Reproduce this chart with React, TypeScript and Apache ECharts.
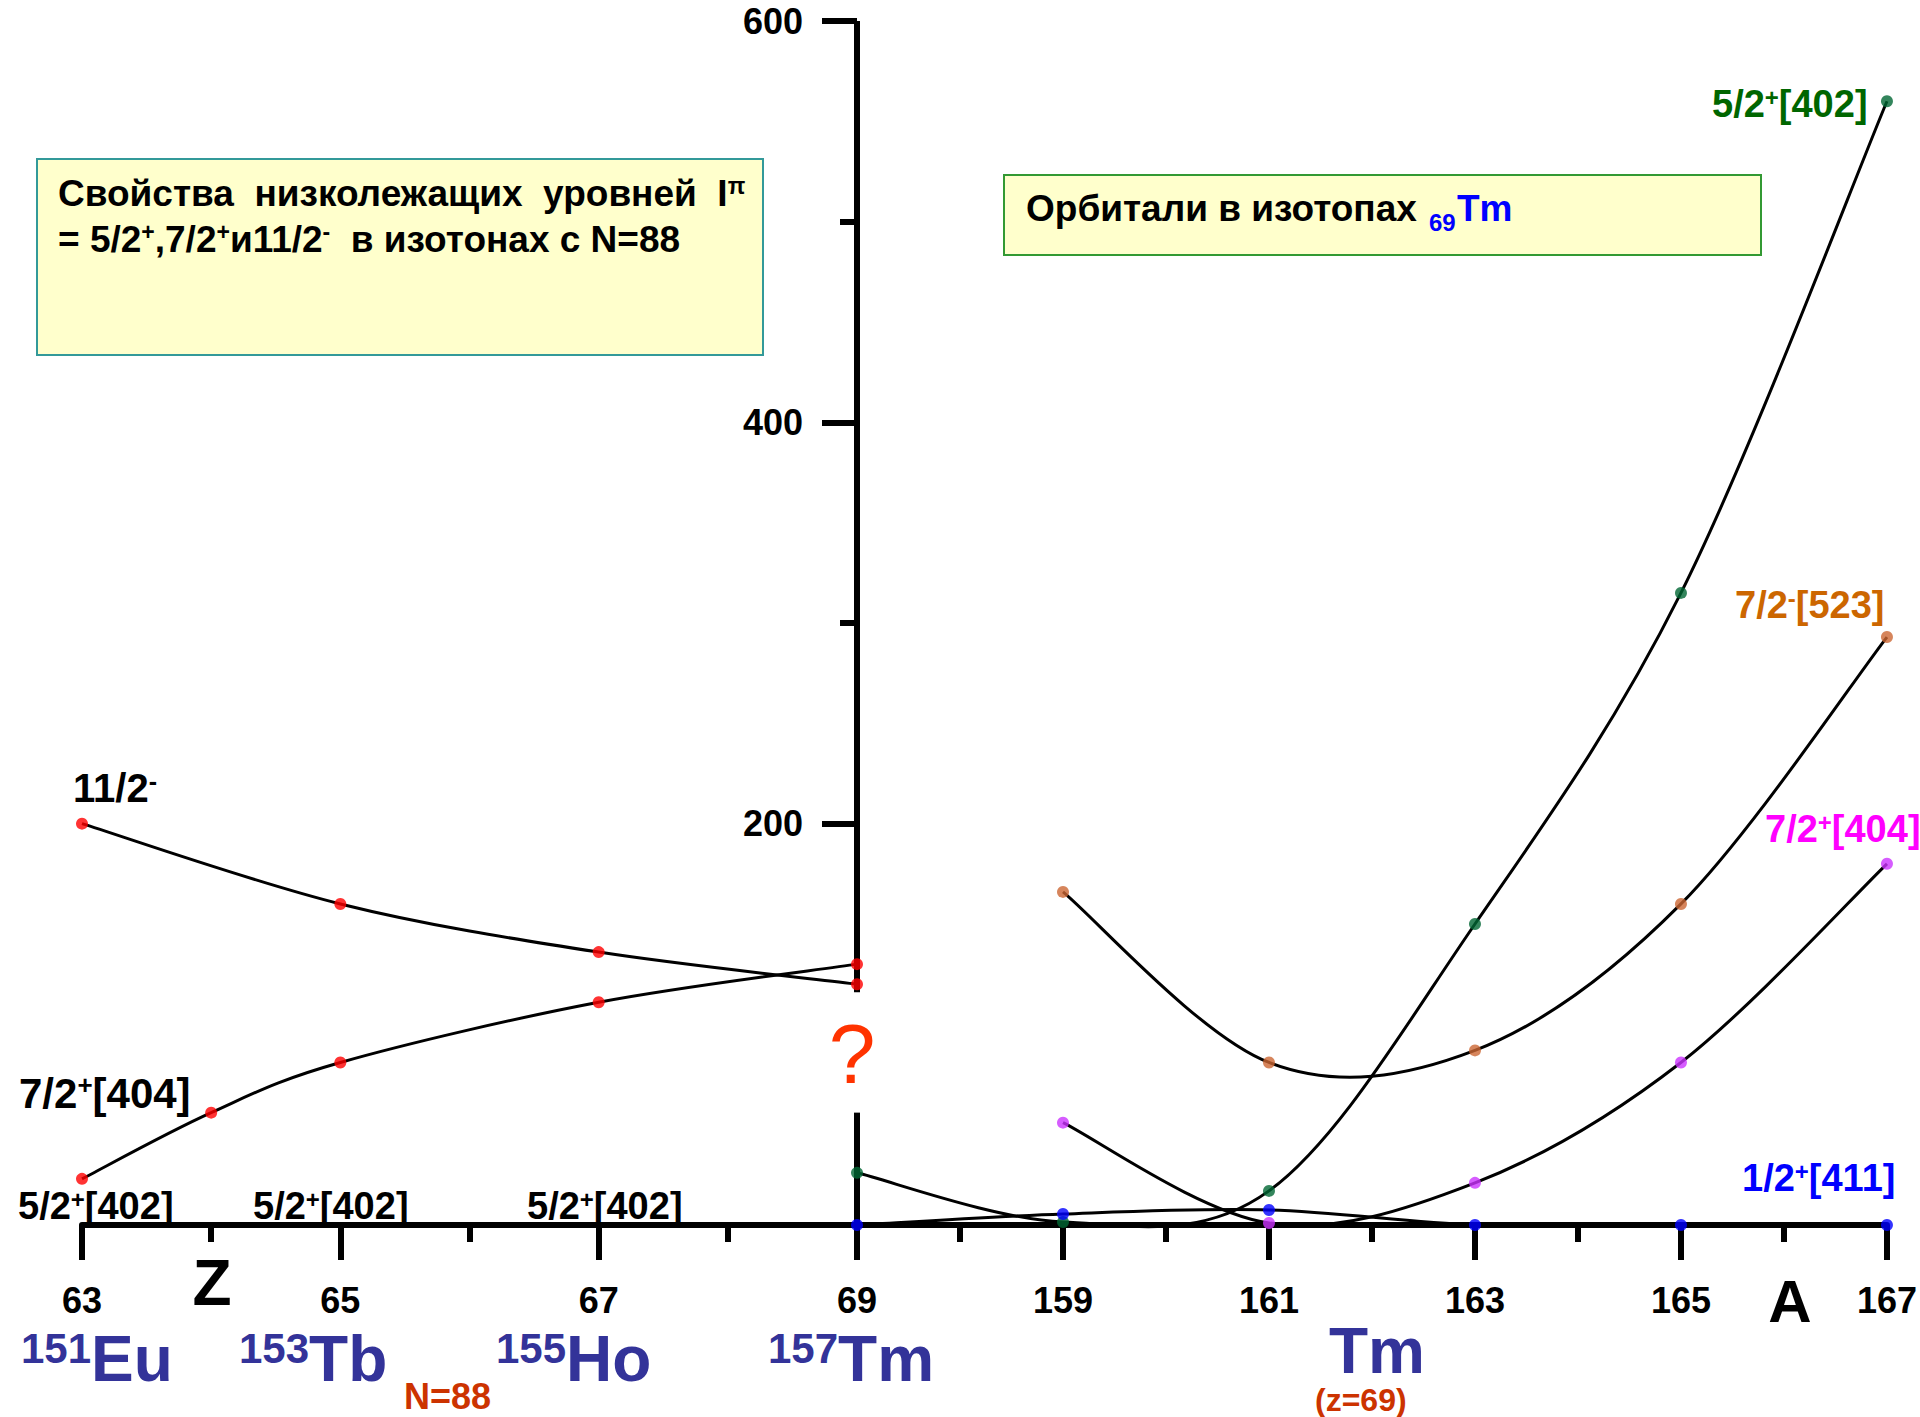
import { useEffect, useRef } from 'react';
import * as echarts from 'echarts';

const FONT = '"Liberation Sans", Arial, Helvetica, sans-serif';

// ---- Left panel: isotones N=88, x = Z ----
const zMin = 63;
const zMax = 69;
const z_11m = [63, 65, 67, 69];
const e_11m = [200, 160, 136, 120];
const z_72p = [63, 64, 65, 67, 69];
const e_72p = [23, 56, 81, 111, 130];

// ---- Right panel: Tm isotopes, x = A ----
const aMin = 157;
const aMax = 167;
const a_402 = [157, 159, 161, 163, 165, 167];
const e_402 = [26, 1.5, 17, 150, 315, 560];
const a_523 = [159, 161, 163, 165, 167];
const e_523 = [166, 81, 87, 160, 293];
const a_404 = [159, 161, 163, 165, 167];
const e_404 = [51, 1, 21, 81, 180];
const a_411 = [157, 159, 161, 163, 165, 167];
const e_411 = [0, 5.5, 7.5, 0, 0, 0];

// energy axis (keV), drawn with a gap where the "?" sits
const eMin = 0;
const eMax = 600;
const eInterval = 200;
const eMinorTicks = [300, 500];
const energyAxisPieces = [
  [0, 56],
  [116, 600],
];

// texts
const isotopes = [
  { mass: '151', el: 'Eu', x: 21 },
  { mass: '153', el: 'Tb', x: 239 },
  { mass: '155', el: 'Ho', x: 496 },
  { mass: '157', el: 'Tm', x: 768 },
];
const baseLabelX = [18, 253, 527];

const txt = (
  x: number,
  y: number,
  text: string,
  fontSize: number,
  fill: string,
  opts: any = {}
) => {
  const weight = opts.weight || 'bold';
  const lh = opts.lineHeight || fontSize;
  const supSize = opts.supSize || Math.round(fontSize * 0.62);
  return {
    type: 'text',
    x,
    y,
    z: 20,
    silent: true,
    style: {
      text,
      fill,
      fontSize,
      fontWeight: weight,
      fontFamily: FONT,
      align: opts.align || 'left',
      textAlign: opts.align || 'left',
      verticalAlign: 'middle',
      textVerticalAlign: 'middle',
      lineHeight: lh,
      rich: {
        m: { fontSize, fontWeight: weight, fontFamily: FONT, fill, lineHeight: lh },
        s: {
          fontSize: supSize,
          fontWeight: 'bold',
          fontFamily: FONT,
          fill: opts.supFill || fill,
          verticalAlign: 'top',
          lineHeight: supSize,
        },
      },
    },
  };
};

// Catmull-Rom spline through pixel points, as cubic Bezier path data
function splinePath(pts: number[][]) {
  let d = `M${pts[0][0]},${pts[0][1]}`;
  for (let i = 0; i < pts.length - 1; i++) {
    const p0 = pts[i - 1] || pts[i];
    const p1 = pts[i];
    const p2 = pts[i + 1];
    const p3 = pts[i + 2] || p2;
    const c1x = p1[0] + (p2[0] - p0[0]) / 6;
    const c1y = p1[1] + (p2[1] - p0[1]) / 6;
    const c2x = p2[0] - (p3[0] - p1[0]) / 6;
    const c2y = p2[1] - (p3[1] - p1[1]) / 6;
    d += ` C${c1x},${c1y} ${c2x},${c2y} ${p2[0]},${p2[1]}`;
  }
  return d;
}

const curveSeries = (idx: number, xs: number[], ys: number[], color: string) => [
  {
    type: 'custom',
    coordinateSystem: 'cartesian2d',
    xAxisIndex: idx,
    yAxisIndex: idx,
    data: xs.map((x, i) => [x, ys[i]]),
    encode: { x: 0, y: 1 },
    clip: false,
    silent: true,
    z: 3,
    renderItem: (params: any, api: any) => {
      if (params.dataIndex !== 0) return null;
      const pts = xs.map((x, i) => api.coord([x, ys[i]]));
      return {
        type: 'path',
        shape: { pathData: splinePath(pts) },
        style: { stroke: '#000', lineWidth: 3, fill: 'none' },
      };
    },
  },
  {
    type: 'scatter',
    xAxisIndex: idx,
    yAxisIndex: idx,
    data: xs.map((x, i) => [x, ys[i]]),
    symbol: 'circle',
    symbolSize: 12,
    clip: false,
    silent: true,
    z: 4,
    itemStyle: { color },
  },
];

const xAxisCommon = {
  type: 'value',
  splitLine: { show: false },
  axisLine: { show: true, onZero: false, lineStyle: { color: '#000', width: 6 } },
  axisTick: { show: true, length: 35, lineStyle: { color: '#000', width: 6 } },
  minorTick: { show: true, splitNumber: 2, length: 17, lineStyle: { color: '#000', width: 6 } },
  minorSplitLine: { show: false },
};

export default function App() {
  const ref = useRef<HTMLDivElement>(null);

  useEffect(() => {
    if (!ref.current) return;
    const chart = echarts.init(ref.current, null, { renderer: 'svg' });

    const graphic: any[] = [
      {
        type: 'rect',
        z: 5,
        silent: true,
        shape: { x: 37, y: 159, width: 726, height: 196 },
        style: { fill: '#FFFFCC', stroke: '#339999', lineWidth: 2 },
      },
      {
        type: 'rect',
        z: 5,
        silent: true,
        shape: { x: 1004, y: 175, width: 757, height: 80 },
        style: { fill: '#FFFFCC', stroke: '#339933', lineWidth: 2 },
      },
      txt(58, 193, 'Свойства  низколежащих  уровней  I{s|π}', 37, '#000'),
      txt(58, 239, '= 5/2{s|+},7/2{s|+}и11/2{s|-}  в изотонах с N=88', 37, '#000'),
      txt(1026, 208, 'Орбитали в изотопах', 37, '#000'),
      txt(1429, 222, '69', 24, '#0000FF'),
      txt(1457, 208, 'Tm', 37, '#0000FF'),
      // right labels
      txt(1712, 104, '5/2{s|+}[402]', 38, '#006600'),
      txt(1735, 605, '7/2{s|-}[523]', 38, '#CC6600'),
      txt(1765, 829, '7/2{s|+}[404]', 38, '#FF00FF'),
      txt(1742, 1178, '1/2{s|+}[411]', 38, '#0000FF'),
      // left labels
      txt(73, 788, '11/2{s|-}', 40, '#000'),
      txt(19, 1093, '7/2{s|+}[404]', 42, '#000'),
      ...baseLabelX.map((x) => txt(x, 1206, '5/2{s|+}[402]', 38, '#000')),
      // axis names
      txt(212, 1283, 'Z', 64, '#000', { align: 'center' }),
      txt(1790, 1301, 'A', 60, '#000', { align: 'center' }),
      // question mark in the axis gap
      txt(852, 1054, '?', 84, '#FF3300', { align: 'center', weight: 'normal' }),
      // isotopes
      ...isotopes.map((it) =>
        txt(it.x, 1359, `{s|${it.mass}}{m|${it.el}}`, 64, '#333399', { supSize: 42 })
      ),
      txt(1329, 1351, 'Tm', 64, '#333399', { lineHeight: 40 }),
      txt(404, 1396, 'N=88', 36, '#CC3300', { lineHeight: 28 }),
      txt(1315, 1400, '(z=69)', 32, '#CC3300', { lineHeight: 22 }),
    ];

    const yTickStyle = { color: '#000', width: 6 };

    const option: any = {
      animation: false,
      backgroundColor: '#fff',
      grid: [
        { left: 82, top: 21, width: 775, height: 1204 },
        { left: 857, top: 21, width: 1031, height: 1204 },
      ],
      xAxis: [
        {
          ...xAxisCommon,
          gridIndex: 0,
          min: zMin,
          max: zMax,
          interval: 2,
          axisLabel: {
            color: '#000',
            fontSize: 36,
            fontWeight: 'bold',
            fontFamily: FONT,
            margin: 57,
          },
        },
        {
          ...xAxisCommon,
          gridIndex: 1,
          min: aMin,
          max: aMax,
          interval: 2,
          axisLabel: {
            color: '#000',
            fontSize: 36,
            fontWeight: 'bold',
            fontFamily: FONT,
            margin: 57,
            formatter: (v: number) => (v === aMin ? '' : String(v)),
          },
        },
      ],
      yAxis: [
        { type: 'value', gridIndex: 0, min: eMin, max: eMax, show: false },
        {
          type: 'value',
          gridIndex: 1,
          min: eMin,
          max: eMax,
          interval: eInterval,
          position: 'left',
          splitLine: { show: false },
          axisLine: { show: false },
          axisTick: { show: true, length: 35, lineStyle: yTickStyle },
          axisLabel: {
            color: '#000',
            fontSize: 36,
            fontWeight: 'bold',
            fontFamily: FONT,
            margin: 54,
            formatter: (v: number) => (v === 0 ? '' : String(v)),
          },
        },
        {
          type: 'value',
          gridIndex: 1,
          min: eMin,
          max: eMax,
          position: 'left',
          splitLine: { show: false },
          axisLine: { show: false },
          axisLabel: { show: false },
          axisTick: { show: true, length: 17, customValues: eMinorTicks, lineStyle: yTickStyle },
        },
      ],
      series: [
        ...energyAxisPieces.map(([a, b]) => ({
          type: 'line',
          xAxisIndex: 1,
          yAxisIndex: 1,
          data: [
            [aMin, a],
            [aMin, b],
          ],
          symbol: 'none',
          clip: false,
          silent: true,
          z: 1,
          lineStyle: { color: '#000', width: 6, cap: 'butt' },
        })),
        ...curveSeries(0, z_11m, e_11m, '#FF0000'),
        ...curveSeries(0, z_72p, e_72p, '#FF0000'),
        ...curveSeries(1, a_402, e_402, '#006633'),
        ...curveSeries(1, a_523, e_523, '#CC6633'),
        ...curveSeries(1, a_404, e_404, '#CC33FF'),
        ...curveSeries(1, a_411, e_411, '#0000FF'),
      ],
      graphic,
    };

    chart.setOption(option);
    return () => chart.dispose();
  }, []);

  return (
    <div
      ref={ref}
      style={{ position: 'absolute', left: 0, top: 0, width: 1920, height: 1417, background: '#fff' }}
    />
  );
}
